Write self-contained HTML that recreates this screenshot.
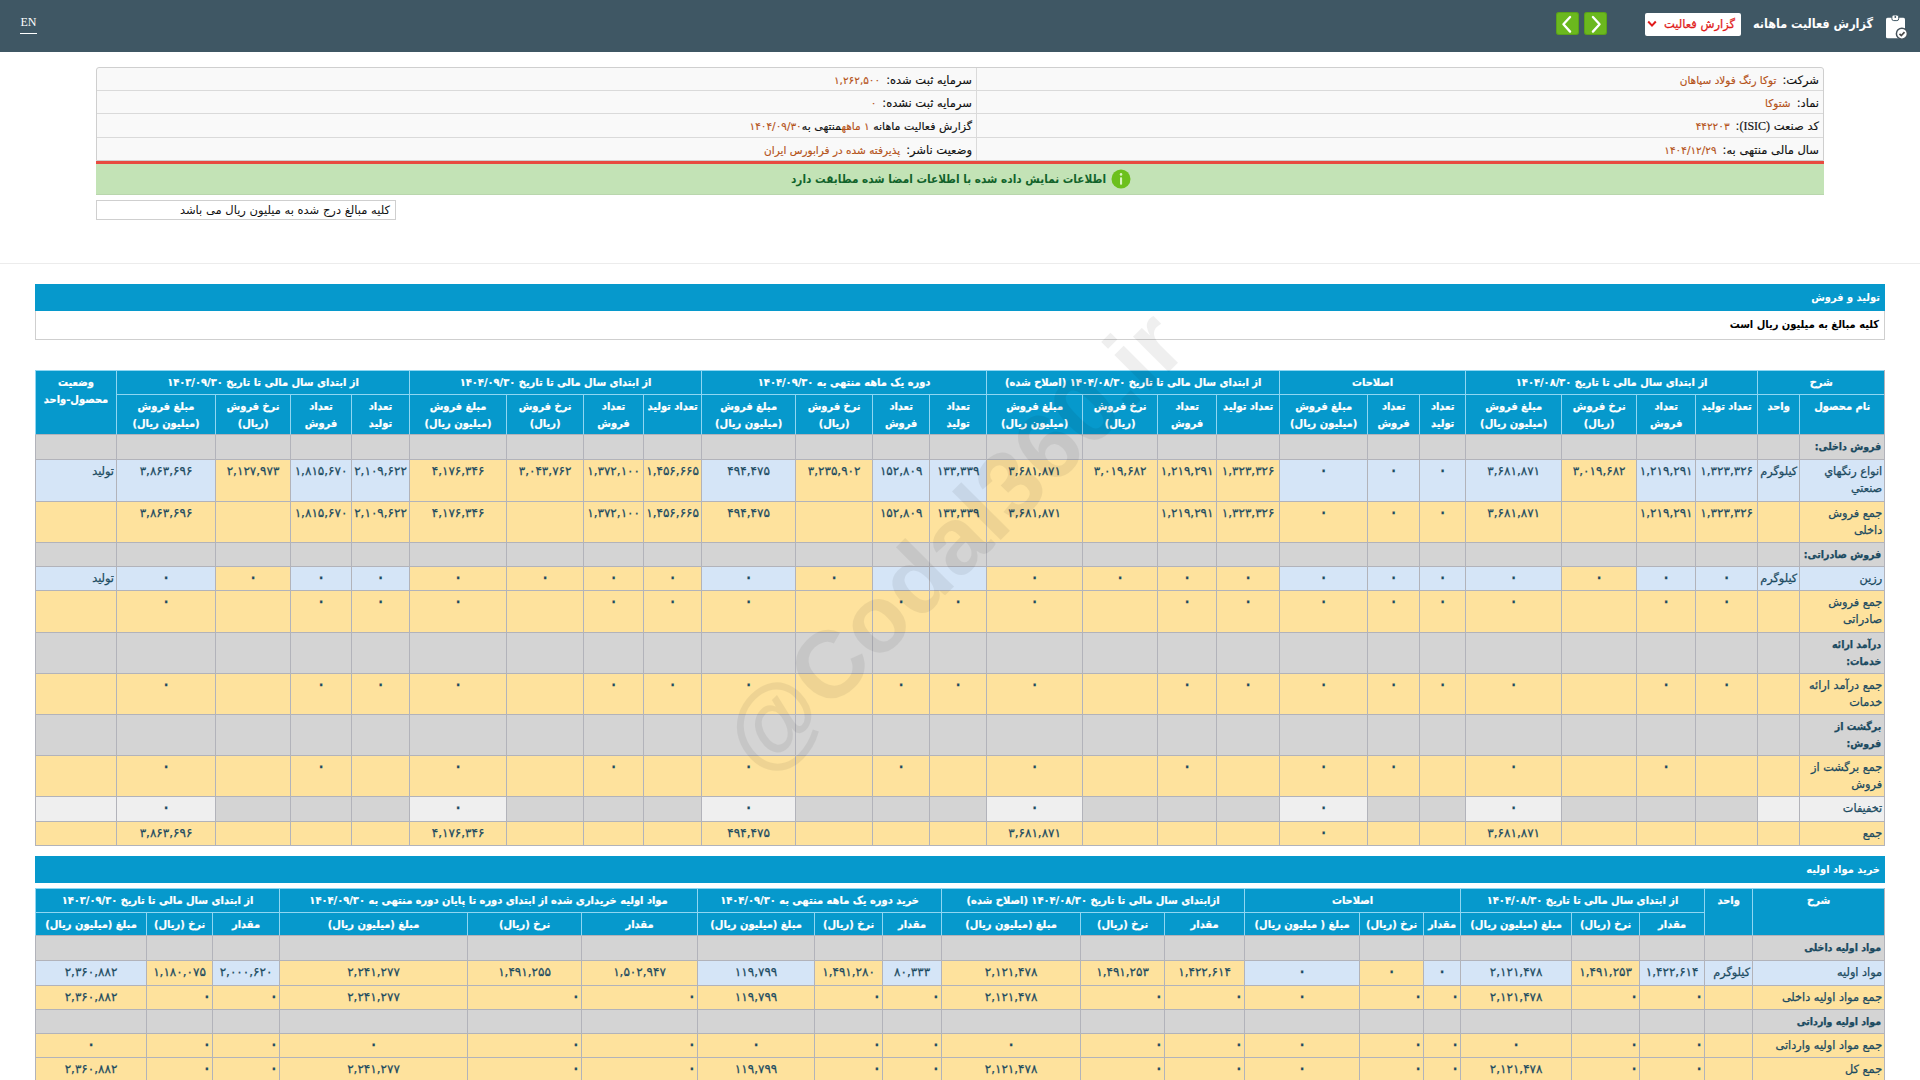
<!DOCTYPE html>
<html lang="fa" dir="rtl">
<head>
<meta charset="utf-8">
<title>گزارش فعالیت ماهانه</title>
<style>
*{box-sizing:border-box;margin:0;padding:0}
html,body{width:1920px;height:1080px;overflow:hidden;background:#fff}
body{position:relative;direction:rtl;font-family:"Liberation Sans","DejaVu Sans",sans-serif;font-size:11px;color:#000}
.fa{font-family:"DejaVu Sans","Liberation Sans",sans-serif}
.abs{position:absolute}
#top{left:0;top:0;width:1920px;height:52px;background:#3f5764}
#en{left:20px;top:14px;width:17px;height:20px;color:#fff;font-family:"Liberation Serif",serif;font-size:12px;line-height:16px;direction:ltr;text-align:center;border-bottom:1px solid #fff}
#title{right:47px;top:12px;height:24px;line-height:24px;color:#fff;font-family:"DejaVu Sans",sans-serif;font-weight:bold;font-stretch:condensed;font-size:12.5px;white-space:nowrap}
#dd{left:1645px;top:13px;width:96px;height:23px;background:#fff;border-radius:2px;color:#e01b1b;font-family:"DejaVu Sans",sans-serif;font-size:11.5px;line-height:23px;white-space:nowrap;text-align:right;padding-right:6px;-webkit-text-stroke:.25px #e01b1b}
.gb{top:12px;width:23px;height:23px;background:#6bb81e;border-radius:3px;box-shadow:inset 0 0 0 1px rgba(60,120,20,.35)}
#info{left:96px;top:67px;width:1728px;height:94px;background:#f9f9f9;border:1px solid #cfcfcf;border-radius:3px 3px 0 0}
.ir{position:absolute;left:0;right:0;height:1px;background:#dadada}
.il{-webkit-text-stroke:.15px;position:absolute;height:23px;line-height:23px;font-family:"DejaVu Sans",sans-serif;font-size:11.5px;white-space:nowrap;color:#111}
.il b{font-weight:normal;color:#b5531a;font-size:10.5px;margin-right:6px}
.il i{font-style:normal;font-family:"Liberation Serif",serif;font-size:12px}
#red{left:96px;top:161px;width:1728px;height:3px;background:#e84a40}
#green{left:96px;top:164px;width:1728px;height:31px;background:#c3e3b6;border-bottom:1px solid #b9d6ad}
#gtxt{left:760px;top:168px;width:346px;height:22px;line-height:22px;text-align:right;color:#12632b;font-family:"DejaVu Sans",sans-serif;font-weight:bold;font-stretch:condensed;font-size:11.7px;white-space:nowrap}
#note{left:96px;top:200px;width:300px;height:20px;border:1px solid #cfcfcf;background:#fff;font-family:"DejaVu Sans",sans-serif;font-size:11.5px;line-height:19px;text-align:right;padding-right:5px;white-space:nowrap;color:#111}
#hr{left:0;top:263px;width:1920px;height:1px;background:#ececec}
.bar{left:35px;width:1850px;height:27px;background:#0699cc;color:#fff;font-family:"DejaVu Sans",sans-serif;font-weight:bold;font-stretch:condensed;font-size:11px;line-height:27px;text-align:right;padding-right:5px;white-space:nowrap}
#desc{left:35px;top:311px;width:1850px;height:29px;background:#fff;border:1px solid #cfcfcf;border-top:none;font-family:"DejaVu Sans",sans-serif;font-weight:bold;font-stretch:condensed;font-size:11px;line-height:28px;text-align:right;padding-right:5px;white-space:nowrap;color:#000}
table{position:absolute;left:35px;width:1850px;border-collapse:separate;border-spacing:0;table-layout:fixed;direction:rtl;font-family:"DejaVu Sans",sans-serif;color:#1b4a60;border-right:1px solid #b2b3ba}
td,th{border-left:1px solid #b2b3ba;border-bottom:1px solid #b2b3ba;padding:3px 2px 0 2px;vertical-align:top;text-align:center;font-size:11.3px;line-height:17px;white-space:nowrap;overflow:hidden;font-weight:normal}
th{background:#0699cc;color:#fff;font-weight:bold;font-stretch:condensed;font-size:11px;border-left:1px solid #8fd6f2;border-bottom:1px solid #8fd6f2}
thead tr:first-child th{border-top:1px solid #8fd6f2}
thead tr:last-child th,th.rs{border-bottom-color:#b2b3ba}
td{-webkit-text-stroke:.25px #1b4a60}
th{-webkit-text-stroke:.2px #fff}
td.n{font-size:12px}
td.z{font-size:19px;line-height:17px}
td.z span{position:relative;top:-1.6px}
td.z.r{padding-right:0}
td.r{text-align:right;padding-right:5px}
td.nm{text-align:right;padding-right:2px}
td.u{text-align:right;padding-right:2px}
td.g{background:#d4d4d4}
td.b{background:#d5e5f7}
td.y{background:#fee29d}
td.l{background:#efefef}
td.h{font-size:10.5px;font-weight:bold;font-stretch:condensed;text-align:right;padding-right:3px}
#wm{left:552.6px;top:480.6px;width:800px;height:120px;line-height:120px;text-align:center;direction:ltr;font-family:"Liberation Sans",sans-serif;font-weight:bold;font-size:95px;color:#000;opacity:.06;transform:rotate(-45deg);white-space:nowrap;pointer-events:none}
</style>
</head>
<body>
<div id="top" class="abs"></div>
<div id="en" class="abs">EN</div>
<svg class="abs" style="left:1884px;top:13px" width="26" height="28" viewBox="0 0 26 28">
<rect x="2" y="4.7" width="19" height="20.6" rx="1.6" fill="#fff"/>
<rect x="7.9" y="2" width="6.8" height="5.6" rx="1.8" fill="#fff" stroke="#3f5764" stroke-width="1"/>
<circle cx="11.3" cy="4" r="0.9" fill="#3f5764"/>
<circle cx="17.9" cy="20.7" r="5.5" fill="#fff" stroke="#45525b" stroke-width="1.5"/>
<path d="M15.5 20.8 L17.3 22.5 L20.5 19.2" fill="none" stroke="#4a4a4a" stroke-width="1.7"/>
</svg>
<div id="title" class="abs">گزارش فعالیت ماهانه</div>
<div id="dd" class="abs">گزارش فعالیت</div>
<svg class="abs" style="left:1647px;top:20px" width="10" height="8" viewBox="0 0 10 8"><path d="M1.2 1.5 L5 5.6 L8.8 1.5" fill="none" stroke="#e01b1b" stroke-width="2"/></svg>
<div class="abs gb" style="left:1584px"></div><svg class="abs" style="left:1584px;top:12px" width="23" height="23" viewBox="0 0 23 23"><path d="M8.9 5 L15.6 12.3 L8.9 19.6" fill="none" stroke="#fff" stroke-width="2.3" stroke-linecap="round" stroke-linejoin="round"/></svg>
<div class="abs gb" style="left:1556px"></div><svg class="abs" style="left:1556px;top:12px" width="23" height="23" viewBox="0 0 23 23"><path d="M14.1 5 L7.4 12.3 L14.1 19.6" fill="none" stroke="#fff" stroke-width="2.3" stroke-linecap="round" stroke-linejoin="round"/></svg>
<div id="info" class="abs"><div class="ir" style="top:22px"></div><div class="ir" style="top:45px"></div><div class="ir" style="top:69px"></div><div class="abs" style="left:879px;top:0;width:1px;height:92px;background:#dadada"></div>
<div class="il" style="right:4px;top:1px">شرکت:<b>توکا رنگ فولاد سپاهان</b></div>
<div class="il" style="right:4px;top:24px">نماد:<b>شتوکا</b></div>
<div class="il" style="right:4px;top:47px">کد صنعت <i>(ISIC)</i>:<b>۴۴۲۲۰۳</b></div>
<div class="il" style="right:4px;top:71px">سال مالی منتهی به:<b>۱۴۰۴/۱۲/۲۹</b></div>
<div class="il" style="right:851px;top:1px">سرمایه ثبت شده:<b>۱,۲۶۲,۵۰۰</b></div>
<div class="il" style="right:851px;top:24px">سرمایه ثبت نشده:<b>۰</b></div>
<div class="il" style="right:851px;top:47px;font-size:11px">گزارش فعالیت ماهانه <b style="margin:0">۱ ماهه</b>منتهی به<b style="margin:0">۱۴۰۴/۰۹/۳۰</b></div>
<div class="il" style="right:851px;top:71px">وضعیت ناشر:<b>پذیرفته شده در فرابورس ایران</b></div>
</div>
<div id="red" class="abs"></div><div id="green" class="abs"></div>
<div id="gtxt" class="abs">اطلاعات نمایش داده شده با اطلاعات امضا شده مطابقت دارد</div>
<svg class="abs" style="left:1111px;top:169px" width="20" height="20" viewBox="0 0 20 20"><circle cx="10" cy="10" r="9.5" fill="#6cc01c"/><rect x="9" y="8.2" width="2.1" height="7.6" rx=".8" fill="#d8f5c0"/><circle cx="10.05" cy="5.4" r="1.3" fill="#d8f5c0"/></svg>
<div id="note" class="abs">کلیه مبالغ درج شده به میلیون ریال می باشد</div>
<div id="hr" class="abs"></div>
<div class="abs bar" style="top:284px">تولید و فروش</div>
<div id="desc" class="abs">کلیه مبالغ به میلیون ریال است</div>
<table style="top:370px"><colgroup><col style="width:85px"><col style="width:42px"><col style="width:62px"><col style="width:59px"><col style="width:75px"><col style="width:96px"><col style="width:46px"><col style="width:52px"><col style="width:88px"><col style="width:63px"><col style="width:59px"><col style="width:75px"><col style="width:96px"><col style="width:57px"><col style="width:57px"><col style="width:77px"><col style="width:94px"><col style="width:58px"><col style="width:60px"><col style="width:77px"><col style="width:97px"><col style="width:58px"><col style="width:61px"><col style="width:75px"><col style="width:99px"><col style="width:81px"></colgroup>
<thead>
<tr style="height:25px"><th colspan="2">شرح</th><th colspan="4">از ابتدای سال مالی تا تاریخ ۱۴۰۴/۰۸/۳۰</th><th colspan="3">اصلاحات</th><th colspan="4">از ابتدای سال مالی تا تاریخ ۱۴۰۴/۰۸/۳۰ (اصلاح شده)</th><th colspan="4">دوره یک ماهه منتهی به ۱۴۰۴/۰۹/۳۰</th><th colspan="4">از ابتدای سال مالی تا تاریخ ۱۴۰۴/۰۹/۳۰</th><th colspan="4">از ابتدای سال مالی تا تاریخ ۱۴۰۳/۰۹/۳۰</th><th rowspan="2" class="rs">وضعیت<br>محصول-واحد</th></tr>
<tr style="height:40px"><th>نام محصول</th><th>واحد</th><th>تعداد تولید</th><th>تعداد<br>فروش</th><th>نرخ فروش<br>(ریال)</th><th>مبلغ فروش<br>(میلیون ریال)</th><th>تعداد<br>تولید</th><th>تعداد<br>فروش</th><th>مبلغ فروش<br>(میلیون ریال)</th><th>تعداد تولید</th><th>تعداد<br>فروش</th><th>نرخ فروش<br>(ریال)</th><th>مبلغ فروش<br>(میلیون ریال)</th><th>تعداد<br>تولید</th><th>تعداد<br>فروش</th><th>نرخ فروش<br>(ریال)</th><th>مبلغ فروش<br>(میلیون ریال)</th><th>تعداد تولید</th><th>تعداد<br>فروش</th><th>نرخ فروش<br>(ریال)</th><th>مبلغ فروش<br>(میلیون ریال)</th><th>تعداد<br>تولید</th><th>تعداد<br>فروش</th><th>نرخ فروش<br>(ریال)</th><th>مبلغ فروش<br>(میلیون ریال)</th></tr>
</thead>
<tbody>
<tr style="height:25px"><td class="g h">فروش داخلی:</td><td class="g"></td><td class="g"></td><td class="g"></td><td class="g"></td><td class="g"></td><td class="g"></td><td class="g"></td><td class="g"></td><td class="g"></td><td class="g"></td><td class="g"></td><td class="g"></td><td class="g"></td><td class="g"></td><td class="g"></td><td class="g"></td><td class="g"></td><td class="g"></td><td class="g"></td><td class="g"></td><td class="g"></td><td class="g"></td><td class="g"></td><td class="g"></td><td class="g"></td></tr>
<tr style="height:42px"><td class="b nm">انواع رنگهاي<br>صنعتي</td><td class="b u">کیلوگرم</td><td class="b n">۱,۳۲۳,۳۲۶</td><td class="b n">۱,۲۱۹,۲۹۱</td><td class="y n">۳,۰۱۹,۶۸۲</td><td class="b n">۳,۶۸۱,۸۷۱</td><td class="b z"><span>۰</span></td><td class="b z"><span>۰</span></td><td class="b z"><span>۰</span></td><td class="y n">۱,۳۲۳,۳۲۶</td><td class="y n">۱,۲۱۹,۲۹۱</td><td class="y n">۳,۰۱۹,۶۸۲</td><td class="y n">۳,۶۸۱,۸۷۱</td><td class="b n">۱۳۳,۳۳۹</td><td class="b n">۱۵۲,۸۰۹</td><td class="y n">۳,۲۳۵,۹۰۲</td><td class="b n">۴۹۴,۴۷۵</td><td class="y n">۱,۴۵۶,۶۶۵</td><td class="y n">۱,۳۷۲,۱۰۰</td><td class="y n">۳,۰۴۳,۷۶۲</td><td class="y n">۴,۱۷۶,۳۴۶</td><td class="b n">۲,۱۰۹,۶۲۲</td><td class="b n">۱,۸۱۵,۶۷۰</td><td class="y n">۲,۱۲۷,۹۷۳</td><td class="b n">۳,۸۶۳,۶۹۶</td><td class="b nm">تولید</td></tr>
<tr style="height:41px"><td class="y nm">جمع فروش<br>داخلی</td><td class="y"></td><td class="y n">۱,۳۲۳,۳۲۶</td><td class="y n">۱,۲۱۹,۲۹۱</td><td class="y"></td><td class="y n">۳,۶۸۱,۸۷۱</td><td class="y z"><span>۰</span></td><td class="y z"><span>۰</span></td><td class="y z"><span>۰</span></td><td class="y n">۱,۳۲۳,۳۲۶</td><td class="y n">۱,۲۱۹,۲۹۱</td><td class="y"></td><td class="y n">۳,۶۸۱,۸۷۱</td><td class="y n">۱۳۳,۳۳۹</td><td class="y n">۱۵۲,۸۰۹</td><td class="y"></td><td class="y n">۴۹۴,۴۷۵</td><td class="y n">۱,۴۵۶,۶۶۵</td><td class="y n">۱,۳۷۲,۱۰۰</td><td class="y"></td><td class="y n">۴,۱۷۶,۳۴۶</td><td class="y n">۲,۱۰۹,۶۲۲</td><td class="y n">۱,۸۱۵,۶۷۰</td><td class="y"></td><td class="y n">۳,۸۶۳,۶۹۶</td><td class="y"></td></tr>
<tr style="height:24px"><td class="g h">فروش صادراتی:</td><td class="g"></td><td class="g"></td><td class="g"></td><td class="g"></td><td class="g"></td><td class="g"></td><td class="g"></td><td class="g"></td><td class="g"></td><td class="g"></td><td class="g"></td><td class="g"></td><td class="g"></td><td class="g"></td><td class="g"></td><td class="g"></td><td class="g"></td><td class="g"></td><td class="g"></td><td class="g"></td><td class="g"></td><td class="g"></td><td class="g"></td><td class="g"></td><td class="g"></td></tr>
<tr style="height:24px"><td class="b nm">رزین</td><td class="b u">کیلوگرم</td><td class="b z"><span>۰</span></td><td class="b z"><span>۰</span></td><td class="y z"><span>۰</span></td><td class="b z"><span>۰</span></td><td class="b z"><span>۰</span></td><td class="b z"><span>۰</span></td><td class="b z"><span>۰</span></td><td class="y z"><span>۰</span></td><td class="y z"><span>۰</span></td><td class="y z"><span>۰</span></td><td class="y z"><span>۰</span></td><td class="b"></td><td class="b"></td><td class="y z"><span>۰</span></td><td class="b z"><span>۰</span></td><td class="y z"><span>۰</span></td><td class="y z"><span>۰</span></td><td class="y z"><span>۰</span></td><td class="y z"><span>۰</span></td><td class="b z"><span>۰</span></td><td class="b z"><span>۰</span></td><td class="y z"><span>۰</span></td><td class="b z"><span>۰</span></td><td class="b nm">تولید</td></tr>
<tr style="height:42px"><td class="y nm">جمع فروش<br>صادراتی</td><td class="y"></td><td class="y z"><span>۰</span></td><td class="y z"><span>۰</span></td><td class="y"></td><td class="y z"><span>۰</span></td><td class="y z"><span>۰</span></td><td class="y z"><span>۰</span></td><td class="y z"><span>۰</span></td><td class="y z"><span>۰</span></td><td class="y z"><span>۰</span></td><td class="y"></td><td class="y z"><span>۰</span></td><td class="y z"><span>۰</span></td><td class="y z"><span>۰</span></td><td class="y"></td><td class="y z"><span>۰</span></td><td class="y z"><span>۰</span></td><td class="y z"><span>۰</span></td><td class="y"></td><td class="y z"><span>۰</span></td><td class="y z"><span>۰</span></td><td class="y z"><span>۰</span></td><td class="y"></td><td class="y z"><span>۰</span></td><td class="y"></td></tr>
<tr style="height:41px"><td class="g h">درآمد ارائه<br>خدمات:</td><td class="g"></td><td class="g"></td><td class="g"></td><td class="g"></td><td class="g"></td><td class="g"></td><td class="g"></td><td class="g"></td><td class="g"></td><td class="g"></td><td class="g"></td><td class="g"></td><td class="g"></td><td class="g"></td><td class="g"></td><td class="g"></td><td class="g"></td><td class="g"></td><td class="g"></td><td class="g"></td><td class="g"></td><td class="g"></td><td class="g"></td><td class="g"></td><td class="g"></td></tr>
<tr style="height:41px"><td class="y nm">جمع درآمد ارائه<br>خدمات</td><td class="y"></td><td class="y z"><span>۰</span></td><td class="y z"><span>۰</span></td><td class="y"></td><td class="y z"><span>۰</span></td><td class="y z"><span>۰</span></td><td class="y z"><span>۰</span></td><td class="y z"><span>۰</span></td><td class="y z"><span>۰</span></td><td class="y z"><span>۰</span></td><td class="y"></td><td class="y z"><span>۰</span></td><td class="y z"><span>۰</span></td><td class="y z"><span>۰</span></td><td class="y"></td><td class="y z"><span>۰</span></td><td class="y z"><span>۰</span></td><td class="y z"><span>۰</span></td><td class="y"></td><td class="y z"><span>۰</span></td><td class="y z"><span>۰</span></td><td class="y z"><span>۰</span></td><td class="y"></td><td class="y z"><span>۰</span></td><td class="y"></td></tr>
<tr style="height:41px"><td class="g h">برگشت از<br>فروش:</td><td class="g"></td><td class="g"></td><td class="g"></td><td class="g"></td><td class="g"></td><td class="g"></td><td class="g"></td><td class="g"></td><td class="g"></td><td class="g"></td><td class="g"></td><td class="g"></td><td class="g"></td><td class="g"></td><td class="g"></td><td class="g"></td><td class="g"></td><td class="g"></td><td class="g"></td><td class="g"></td><td class="g"></td><td class="g"></td><td class="g"></td><td class="g"></td><td class="g"></td></tr>
<tr style="height:41px"><td class="y nm">جمع برگشت از<br>فروش</td><td class="y"></td><td class="y"></td><td class="y z"><span>۰</span></td><td class="y"></td><td class="y z"><span>۰</span></td><td class="y"></td><td class="y z"><span>۰</span></td><td class="y z"><span>۰</span></td><td class="y"></td><td class="y z"><span>۰</span></td><td class="y"></td><td class="y z"><span>۰</span></td><td class="y"></td><td class="y z"><span>۰</span></td><td class="y"></td><td class="y z"><span>۰</span></td><td class="y"></td><td class="y z"><span>۰</span></td><td class="y"></td><td class="y z"><span>۰</span></td><td class="y"></td><td class="y z"><span>۰</span></td><td class="y"></td><td class="y z"><span>۰</span></td><td class="y"></td></tr>
<tr style="height:25px"><td class="l nm">تخفیفات</td><td class="l"></td><td class="g"></td><td class="g"></td><td class="g"></td><td class="l z"><span>۰</span></td><td class="g"></td><td class="g"></td><td class="l z"><span>۰</span></td><td class="g"></td><td class="g"></td><td class="g"></td><td class="l z"><span>۰</span></td><td class="g"></td><td class="g"></td><td class="g"></td><td class="l z"><span>۰</span></td><td class="g"></td><td class="g"></td><td class="g"></td><td class="l z"><span>۰</span></td><td class="g"></td><td class="g"></td><td class="g"></td><td class="l z"><span>۰</span></td><td class="l"></td></tr>
<tr style="height:24px"><td class="y nm">جمع</td><td class="y"></td><td class="y"></td><td class="y"></td><td class="y"></td><td class="y n">۳,۶۸۱,۸۷۱</td><td class="y"></td><td class="y"></td><td class="y z"><span>۰</span></td><td class="y"></td><td class="y"></td><td class="y"></td><td class="y n">۳,۶۸۱,۸۷۱</td><td class="y"></td><td class="y"></td><td class="y"></td><td class="y n">۴۹۴,۴۷۵</td><td class="y"></td><td class="y"></td><td class="y"></td><td class="y n">۴,۱۷۶,۳۴۶</td><td class="y"></td><td class="y"></td><td class="y"></td><td class="y n">۳,۸۶۳,۶۹۶</td><td class="y"></td></tr>
</tbody></table>
<div class="abs bar" style="top:856px">خرید مواد اولیه</div>
<table style="top:888px"><colgroup><col style="width:132px"><col style="width:48px"><col style="width:65px"><col style="width:68px"><col style="width:111px"><col style="width:37px"><col style="width:64px"><col style="width:115px"><col style="width:80px"><col style="width:84px"><col style="width:139px"><col style="width:59px"><col style="width:68px"><col style="width:117px"><col style="width:116px"><col style="width:114px"><col style="width:188px"><col style="width:67px"><col style="width:66px"><col style="width:111px"></colgroup>
<thead>
<tr style="height:25px"><th rowspan="2" class="rs">شرح</th><th rowspan="2" class="rs">واحد</th><th colspan="3">از ابتدای سال مالی تا تاریخ ۱۴۰۴/۰۸/۳۰</th><th colspan="3">اصلاحات</th><th colspan="3">ازابتدای سال مالی تا تاریخ ۱۴۰۴/۰۸/۳۰ (اصلاح شده)</th><th colspan="3">خرید دوره یک ماهه منتهی به ۱۴۰۴/۰۹/۳۰</th><th colspan="3">مواد اولیه خریداری شده از ابتدای دوره تا پایان دوره منتهی به ۱۴۰۴/۰۹/۳۰</th><th colspan="3">از ابتدای سال مالی تا تاریخ ۱۴۰۳/۰۹/۳۰</th></tr>
<tr style="height:23px"><th>مقدار</th><th>نرخ (ریال)</th><th>مبلغ (میلیون ریال)</th><th>مقدار</th><th>نرخ (ریال)</th><th>مبلغ ( میلیون ریال)</th><th>مقدار</th><th>نرخ (ریال)</th><th>مبلغ (میلیون ریال)</th><th>مقدار</th><th>نرخ (ریال)</th><th>مبلغ (میلیون ریال)</th><th>مقدار</th><th>نرخ (ریال)</th><th>مبلغ (میلیون ریال)</th><th>مقدار</th><th>نرخ (ریال)</th><th>مبلغ (میلیون ریال)</th></tr>
</thead>
<tbody>
<tr style="height:25px"><td class="g h">مواد اولیه داخلی</td><td class="g"></td><td class="g"></td><td class="g"></td><td class="g"></td><td class="g"></td><td class="g"></td><td class="g"></td><td class="g"></td><td class="g"></td><td class="g"></td><td class="g"></td><td class="g"></td><td class="g"></td><td class="g"></td><td class="g"></td><td class="g"></td><td class="g"></td><td class="g"></td><td class="g"></td></tr>
<tr style="height:25px"><td class="b nm">مواد اولیه</td><td class="b u">کیلوگرم</td><td class="b n">۱,۴۲۲,۶۱۴</td><td class="y n">۱,۴۹۱,۲۵۳</td><td class="b n">۲,۱۲۱,۴۷۸</td><td class="b z"><span>۰</span></td><td class="y z"><span>۰</span></td><td class="b z"><span>۰</span></td><td class="y n">۱,۴۲۲,۶۱۴</td><td class="y n">۱,۴۹۱,۲۵۳</td><td class="y n">۲,۱۲۱,۴۷۸</td><td class="b n">۸۰,۳۳۳</td><td class="y n">۱,۴۹۱,۲۸۰</td><td class="b n">۱۱۹,۷۹۹</td><td class="y n">۱,۵۰۲,۹۴۷</td><td class="y n">۱,۴۹۱,۲۵۵</td><td class="y n">۲,۲۴۱,۲۷۷</td><td class="b n">۲,۰۰۰,۶۲۰</td><td class="y n">۱,۱۸۰,۰۷۵</td><td class="b n">۲,۳۶۰,۸۸۲</td></tr>
<tr style="height:24px"><td class="y nm">جمع مواد اولیه داخلی</td><td class="y"></td><td class="y r z"><span>۰</span></td><td class="y r z"><span>۰</span></td><td class="y n">۲,۱۲۱,۴۷۸</td><td class="y r z"><span>۰</span></td><td class="y r z"><span>۰</span></td><td class="y z"><span>۰</span></td><td class="y r z"><span>۰</span></td><td class="y r z"><span>۰</span></td><td class="y n">۲,۱۲۱,۴۷۸</td><td class="y r z"><span>۰</span></td><td class="y r z"><span>۰</span></td><td class="y n">۱۱۹,۷۹۹</td><td class="y r z"><span>۰</span></td><td class="y r z"><span>۰</span></td><td class="y n">۲,۲۴۱,۲۷۷</td><td class="y r z"><span>۰</span></td><td class="y r z"><span>۰</span></td><td class="y n">۲,۳۶۰,۸۸۲</td></tr>
<tr style="height:24px"><td class="g h">مواد اولیه وارداتی</td><td class="g"></td><td class="g"></td><td class="g"></td><td class="g"></td><td class="g"></td><td class="g"></td><td class="g"></td><td class="g"></td><td class="g"></td><td class="g"></td><td class="g"></td><td class="g"></td><td class="g"></td><td class="g"></td><td class="g"></td><td class="g"></td><td class="g"></td><td class="g"></td><td class="g"></td></tr>
<tr style="height:24px"><td class="y nm">جمع مواد اولیه وارداتی</td><td class="y"></td><td class="y r z"><span>۰</span></td><td class="y r z"><span>۰</span></td><td class="y z"><span>۰</span></td><td class="y r z"><span>۰</span></td><td class="y r z"><span>۰</span></td><td class="y z"><span>۰</span></td><td class="y r z"><span>۰</span></td><td class="y r z"><span>۰</span></td><td class="y z"><span>۰</span></td><td class="y r z"><span>۰</span></td><td class="y r z"><span>۰</span></td><td class="y z"><span>۰</span></td><td class="y r z"><span>۰</span></td><td class="y r z"><span>۰</span></td><td class="y z"><span>۰</span></td><td class="y r z"><span>۰</span></td><td class="y r z"><span>۰</span></td><td class="y z"><span>۰</span></td></tr>
<tr style="height:24px"><td class="y nm">جمع کل</td><td class="y"></td><td class="y r z"><span>۰</span></td><td class="y r z"><span>۰</span></td><td class="y n">۲,۱۲۱,۴۷۸</td><td class="y r z"><span>۰</span></td><td class="y r z"><span>۰</span></td><td class="y z"><span>۰</span></td><td class="y r z"><span>۰</span></td><td class="y r z"><span>۰</span></td><td class="y n">۲,۱۲۱,۴۷۸</td><td class="y r z"><span>۰</span></td><td class="y r z"><span>۰</span></td><td class="y n">۱۱۹,۷۹۹</td><td class="y r z"><span>۰</span></td><td class="y r z"><span>۰</span></td><td class="y n">۲,۲۴۱,۲۷۷</td><td class="y r z"><span>۰</span></td><td class="y r z"><span>۰</span></td><td class="y n">۲,۳۶۰,۸۸۲</td></tr>
</tbody></table>
<div id="wm" class="abs">@Codal360.ir</div>
</body>
</html>
